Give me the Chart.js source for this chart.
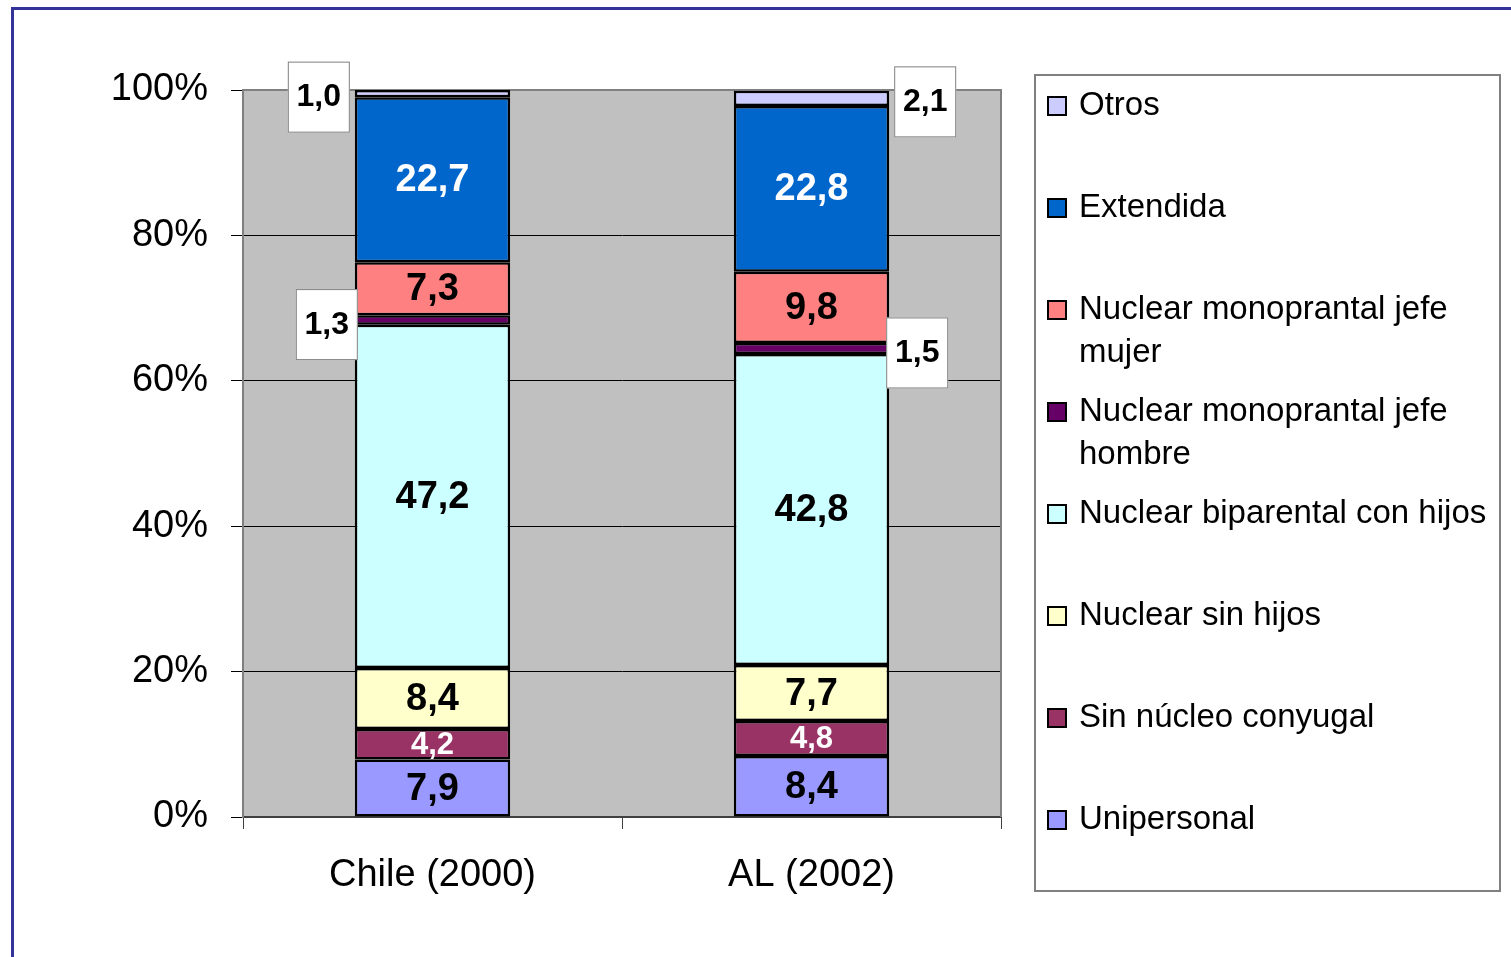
<!DOCTYPE html>
<html>
<head>
<meta charset="utf-8">
<script src="https://cdn.jsdelivr.net/npm/chart.js@4"></script>
<style>
  html, body { margin: 0; padding: 0; background: #fff; }
  #wrap { position: relative; width: 1511px; height: 957px; }
</style>
</head>
<body>
<div id="wrap"><canvas id="chart" width="1511" height="957"></canvas></div>
<script>
// categories and series (stack order bottom -> top)
const categories = ['Chile (2000)', 'AL (2002)'];
const unipersonal = [7.9, 8.4];
const sinNucleo = [4.2, 4.8];
const nuclearSinHijos = [8.4, 7.7];
const biparental = [47.2, 42.8];
const monoHombre = [1.3, 1.5];
const monoMujer = [7.3, 9.8];
const extendida = [22.7, 22.8];
const otros = [1.0, 2.1];
const yTicks = [0, 20, 40, 60, 80, 100];

const series = [
  { label: 'Unipersonal', data: unipersonal, color: '#9999FF', text: '#000' },
  { label: 'Sin núcleo conyugal', data: sinNucleo, color: '#993366', text: '#fff' },
  { label: 'Nuclear sin hijos', data: nuclearSinHijos, color: '#FFFFCC', text: '#000' },
  { label: 'Nuclear biparental con hijos', data: biparental, color: '#CCFFFF', text: '#000' },
  { label: 'Nuclear monoprantal jefe hombre', data: monoHombre, color: '#660066', text: '#000', callout: { dx: 28, dy: 4 } },
  { label: 'Nuclear monoprantal jefe mujer', data: monoMujer, color: '#FF8080', text: '#000' },
  { label: 'Extendida', data: extendida, color: '#0066CC', text: '#fff' },
  { label: 'Otros', data: otros, color: '#CCCCFF', text: '#000', callout: { dx: 36, dy: 3 } }
];
const calloutSide = [-1, 1]; // Chile boxes to the left, AL boxes to the right

const fmt = v => v.toFixed(1).replace('.', ',');

const backgroundPlugin = {
  id: 'background',
  beforeDraw(chart) {
    const { ctx, chartArea: a } = chart;
    ctx.save();
    ctx.fillStyle = '#C0C0C0';
    ctx.fillRect(a.left, a.top, a.right - a.left, a.bottom - a.top);
    // outer frame
    ctx.strokeStyle = '#333399';
    ctx.lineWidth = 3;
    ctx.beginPath();
    ctx.moveTo(12.5, 957);
    ctx.lineTo(12.5, 8.5);
    ctx.lineTo(1511, 8.5);
    ctx.stroke();
    ctx.restore();
  },
  beforeDatasetsDraw(chart) {
    const { ctx, chartArea: a } = chart;
    ctx.save();
    ctx.strokeStyle = '#808080';
    ctx.lineWidth = 2;
    ctx.beginPath();
    ctx.moveTo(a.left, a.top);
    ctx.lineTo(a.right, a.top);
    ctx.lineTo(a.right, a.bottom);
    ctx.stroke();
    ctx.restore();
  }
};

const labelPlugin = {
  id: 'segLabels',
  afterDatasetsDraw(chart) {
    const ctx = chart.ctx;
    ctx.save();
    ctx.textAlign = 'center';
    ctx.textBaseline = 'middle';
    chart.data.datasets.forEach((ds, i) => {
      const s = series[i];
      chart.getDatasetMeta(i).data.forEach((bar, j) => {
        const v = ds.data[j];
        const cy = (bar.y + bar.base) / 2;
        if (s.callout) {
          const side = calloutSide[j];
          const edge = bar.x + side * bar.width / 2;
          const bx = edge + side * s.callout.dx;
          const by = cy + s.callout.dy;
          ctx.fillStyle = '#fff';
          ctx.fillRect(bx - 31, by - 35, 62, 71);
          ctx.strokeStyle = '#808080';
          ctx.lineWidth = 1;
          ctx.strokeRect(bx - 30.5, by - 34.5, 61, 70);
          ctx.fillStyle = '#000';
          ctx.font = 'bold 32px "Liberation Sans", Arial, sans-serif';
          ctx.fillText(fmt(v), bx, by + 1);
        } else {
          ctx.fillStyle = s.text;
          ctx.font = (v < 6 ? 'bold 31px' : 'bold 38px') + ' "Liberation Sans", Arial, sans-serif';
          ctx.fillText(fmt(v), bar.x, cy + 1);
        }
      });
    });
    ctx.restore();
  }
};

const legendPlugin = {
  id: 'boxLegend',
  afterDraw(chart) {
    const ctx = chart.ctx;
    ctx.save();
    ctx.fillStyle = '#fff';
    ctx.fillRect(1035, 75, 465, 816);
    ctx.strokeStyle = '#808080';
    ctx.lineWidth = 2;
    ctx.strokeRect(1035, 75, 465, 816);
    ctx.font = '33px "Liberation Sans", Arial, sans-serif';
    ctx.textBaseline = 'middle';
    ctx.textAlign = 'left';
    const items = chart.data.datasets.slice().reverse();
    items.forEach((ds, k) => {
      const y = 106 + k * 102;
      ctx.fillStyle = ds.backgroundColor;
      ctx.fillRect(1048, y - 9, 18, 18);
      ctx.strokeStyle = '#000';
      ctx.lineWidth = 2;
      ctx.strokeRect(1048, y - 9, 18, 18);
      // wrap text
      const words = ds.label.split(' ');
      const lines = [];
      let line = '';
      words.forEach(w => {
        const t = line ? line + ' ' + w : w;
        if (ctx.measureText(t).width > 412 && line) { lines.push(line); line = w; } else line = t;
      });
      lines.push(line);
      ctx.fillStyle = '#000';
      lines.forEach((ln, li) => ctx.fillText(ln, 1079, y + li * 43));
    });
    ctx.restore();
  }
};

new Chart(document.getElementById('chart'), {
  type: 'bar',
  data: {
    labels: categories,
    datasets: series.map(s => ({
      label: s.label,
      data: s.data,
      backgroundColor: s.color,
      borderColor: '#000',
      borderWidth: 2.5,
      borderSkipped: false,
      barPercentage: 0.41,
      categoryPercentage: 1
    }))
  },
  options: {
    responsive: false,
    animation: false,
    devicePixelRatio: 1,
    layout: { padding: { top: 90, right: 510, left: 0, bottom: 0 } },
    plugins: { legend: { display: false }, tooltip: { enabled: false } },
    scales: {
      x: {
        stacked: true,
        afterFit: s => { s.height = 140; },
        grid: { display: true, drawOnChartArea: false, offset: true, tickLength: 12, color: '#404040', lineWidth: 1 },
        border: { color: '#404040', width: 2 },
        ticks: { color: '#000', padding: 24, font: { family: '"Liberation Sans", Arial, sans-serif', size: 38 } }
      },
      y: {
        stacked: true,
        min: 0,
        max: 100,
        afterFit: s => { s.width = 243; },
        afterBuildTicks: s => { s.ticks = yTicks.map(v => ({ value: v })); },
        grid: { color: '#000', lineWidth: 1, tickLength: 12 },
        border: { color: '#808080', width: 2 },
        ticks: {
          color: '#000',
          padding: 23,
          font: { family: '"Liberation Sans", Arial, sans-serif', size: 38 },
          callback: v => v + '%'
        }
      }
    }
  },
  plugins: [backgroundPlugin, labelPlugin, legendPlugin]
});
</script>
</body>
</html>
